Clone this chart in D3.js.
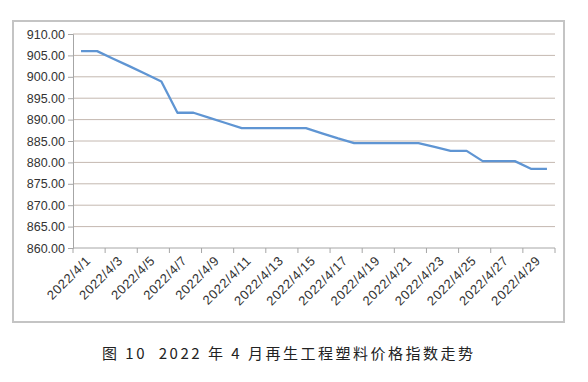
<!DOCTYPE html>
<html><head><meta charset="utf-8">
<script src="https://cdn.jsdelivr.net/npm/d3@7"></script>
<style>body{margin:0;background:#fff}svg{display:block}</style>
</head><body>
<svg id="c" width="588" height="382"></svg>
<script>
const dates = ["2022/4/1","2022/4/2","2022/4/3","2022/4/4","2022/4/5","2022/4/6","2022/4/7","2022/4/8","2022/4/9","2022/4/10",
"2022/4/11","2022/4/12","2022/4/13","2022/4/14","2022/4/15","2022/4/16","2022/4/17","2022/4/18","2022/4/19","2022/4/20",
"2022/4/21","2022/4/22","2022/4/23","2022/4/24","2022/4/25","2022/4/26","2022/4/27","2022/4/28","2022/4/29","2022/4/30"];
const values = [906.0,906.0,904.2,902.5,900.7,898.9,891.6,891.6,890.4,889.2,
888.0,888.0,888.0,888.0,888.0,886.8,885.6,884.5,884.5,884.5,
884.5,884.5,883.6,882.7,882.7,880.3,880.3,880.3,878.5,878.5];
const yTicks = [860,865,870,875,880,885,890,895,900,905,910];
const title = "图 10  2022 年 4 月再生工程塑料价格指数走势";

const svg = d3.select("#c");
const m = {l:73, r:555, t:34, b:248};
// frame
svg.append("rect").attr("x",13).attr("y",21).attr("width",551).attr("height",301)
  .attr("fill","#fff").attr("stroke","#c4c4c4").attr("stroke-width",2);

const x = d3.scaleBand().domain(dates).range([m.l,m.r]).padding(0);
const y = d3.scaleLinear().domain([860,910]).range([m.b,m.t]);

// gridlines
svg.append("g").selectAll("line").data(yTicks.filter(d=>d>860)).join("line")
  .attr("x1",m.l).attr("x2",m.r).attr("y1",d=>y(d)).attr("y2",d=>y(d))
  .attr("stroke","#c4b8b0").attr("stroke-width",1);

// y axis
const ya = svg.append("g").attr("transform",`translate(${m.l},0)`)
  .call(d3.axisLeft(y).tickValues(yTicks).tickFormat(d3.format(".2f")).tickSize(5).tickPadding(3));
ya.select(".domain").attr("stroke","#a6a6a6");
ya.selectAll(".tick line").attr("stroke","#a6a6a6");
ya.selectAll("text").attr("font-family","Liberation Sans, Arial, sans-serif").attr("font-size",12.5).attr("fill","#333");

// x axis
const xa = svg.append("g").attr("transform",`translate(0,${m.b})`);
xa.append("line").attr("x1",m.l).attr("x2",m.r).attr("stroke","#a6a6a6");
const bounds = d3.range(0, dates.length+1, 2).map(i=> m.l + i*x.bandwidth());
xa.selectAll("line.t").data(bounds).join("line").attr("class","t")
  .attr("x1",d=>d).attr("x2",d=>d).attr("y1",0).attr("y2",5).attr("stroke","#a6a6a6");
xa.selectAll("text").data(dates.filter((d,i)=>i%2===0)).join("text")
  .attr("transform",d=>`translate(${x(d)+x.bandwidth()/2+8},11) rotate(-45)`)
  .attr("text-anchor","end").attr("dominant-baseline","middle")
  .attr("font-family","Liberation Sans, Arial, sans-serif").attr("font-size",13)
  .attr("letter-spacing","0.6px").attr("fill","#333")
  .text(d=>d);

// line
const line = d3.line().x((d,i)=>x(dates[i])+x.bandwidth()/2).y(d=>y(d));
svg.append("path").datum(values).attr("d",line).attr("fill","none")
  .attr("stroke","#5f95d3").attr("stroke-width",2.3).attr("stroke-linejoin","round");

// title
svg.append("text").attr("x",102).attr("y",359).attr("text-anchor","start")
  .attr("font-family","Noto Sans CJK SC, sans-serif").attr("font-size",15)
  .attr("letter-spacing","2.5px").attr("fill","#222").attr("xml:space","preserve")
  .style("white-space","pre").text(title);
</script>
</body></html>
